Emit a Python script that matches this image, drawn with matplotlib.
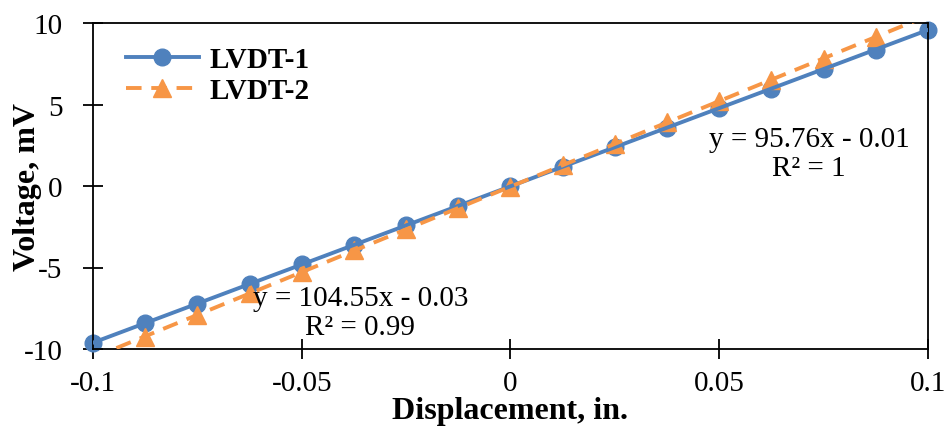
'''LVDT calibration: voltage vs displacement'''

import matplotlib.pyplot as plt
import numpy as np

plt.rcParams['font.family'] = 'Liberation Serif'
plt.rcParams['axes.unicode_minus'] = False

# Data

disp_1 = [-0.1, -0.0875, -0.075, -0.0625, -0.05, -0.0375, -0.025, -0.0125, 0.0,
          0.0125, 0.025, 0.0375, 0.05, 0.0625, 0.075, 0.0875, 0.1]
volt_1 = [-9.65, -8.42, -7.22, -6.02, -4.80, -3.60, -2.40, -1.21, 0.03,
          1.18, 2.38, 3.58, 4.77, 5.97, 7.17, 8.36, 9.57]

disp_2 = [-0.0875, -0.075, -0.0625, -0.05, -0.0375, -0.025, -0.0125, 0.0,
          0.0125, 0.025, 0.0375, 0.05, 0.0625, 0.075, 0.0875]
volt_2 = [-9.25, -7.92, -6.58, -5.28, -3.95, -2.65, -1.33, -0.05,
          1.28, 2.58, 3.90, 5.22, 6.52, 7.82, 9.14]

x_ticks = [-0.1, -0.05, 0, 0.05, 0.1]
x_labels = ['-0.1', '-0.05', '0', '0.05', '0.1']
y_ticks = [-10, -5, 0, 5, 10]

blue = '#4f81bd'
orange = '#f79646'

# Trendlines

p1 = np.polyfit(disp_1, volt_1, 1)
p2 = np.polyfit(disp_2, volt_2, 1)
xx = np.array([-0.1, 0.1])

fig = plt.figure(figsize=(9.48, 4.35), dpi=100)
ax = fig.add_axes([93/948, 85/435, 835/948, 326/435])

ax.plot(disp_1, volt_1, 'o', color=blue, ms=12, zorder=2, clip_on=False)
ax.plot(disp_2, volt_2, '^', color=orange, ms=13, zorder=3)
ax.plot(xx, np.polyval(p1, xx), '-', color=blue, lw=2.8, zorder=4)
ax.plot(xx, np.polyval(p2, xx), '--', color=orange, lw=2.8, dashes=(4, 2.5), zorder=5)

# legend handles
h1, = ax.plot([], [], '-o', color=blue, ms=12, lw=2.8, label='LVDT-1')
h2, = ax.plot([], [], '--^', color=orange, ms=13, lw=2.8, dashes=(4, 2.5), label='LVDT-2')
leg = ax.legend(handles=[h1, h2], loc='upper left', bbox_to_anchor=(0.008, 1.01),
                frameon=False, prop={'weight': 'bold', 'size': 21},
                handlelength=2.5, handletextpad=0.35, labelspacing=0.15)

ax.text(0.0715, 2.0, 'y = 95.76x - 0.01\nR² = 1', ha='center', va='center',
        fontsize=21, linespacing=1.15)
ax.text(-0.036, -7.75, 'y = 104.55x - 0.03\nR² = 0.99', ha='center', va='center',
        fontsize=21, linespacing=1.15)

ax.set_xlim(-0.1, 0.1)
ax.set_ylim(-10, 10)
ax.set_xticks(x_ticks)
ax.set_xticklabels(x_labels)
ax.set_yticks(y_ticks)
ax.tick_params(direction='inout', length=14, width=1.3, labelsize=21)
ax.tick_params(axis='x', pad=8)
ax.tick_params(axis='y', pad=15)
for s in ax.spines.values():
    s.set_linewidth(1.3)

ax.set_xlabel('Displacement, in.', fontsize=23, fontweight='bold', labelpad=0)
ax.set_ylabel('Voltage, mV', fontsize=23, fontweight='bold')
ax.yaxis.set_label_coords(-0.061, 0.5)

fig.savefig('out.png', dpi=100)
